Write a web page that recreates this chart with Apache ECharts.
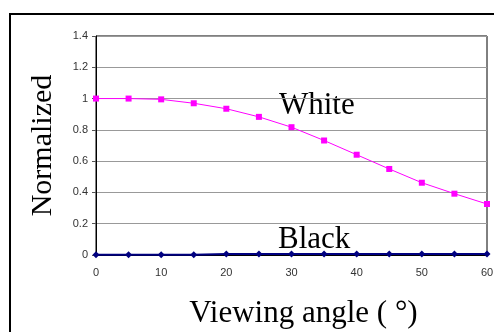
<!DOCTYPE html>
<html>
<head>
<meta charset="utf-8">
<script src="https://cdn.jsdelivr.net/npm/echarts@6/dist/echarts.min.js"></script>
<style>html,body{margin:0;padding:0;background:#fff}#c{width:494px;height:332px}</style>
</head>
<body>
<div id="c"></div>
<script>
const angles = [0, 5, 10, 15, 20, 25, 30, 35, 40, 45, 50, 55, 60];
const whiteVals = [1.0, 1.0, 0.995, 0.97, 0.935, 0.883, 0.817, 0.732, 0.641, 0.55, 0.462, 0.392, 0.326];
const blackVals = [0.002, 0.002, 0.002, 0.002, 0.006, 0.006, 0.006, 0.006, 0.006, 0.006, 0.006, 0.006, 0.006];
const yTicks = [0, 0.2, 0.4, 0.6, 0.8, 1, 1.2, 1.4];

const chart = echarts.init(document.getElementById('c'));
const serif = '"Liberation Serif", "DejaVu Serif", serif';
chart.setOption({
  animation: false,
  grid: { left: 96, top: 36, right: 7, bottom: 77, show: true, borderColor: '#000', borderWidth: 1,
    containLabel: false, outerBoundsMode: 'none' },
  xAxis: {
    type: 'value', min: 0, max: 60, interval: 10,
    name: 'Viewing angle ( °)', nameLocation: 'middle', nameGap: 43,
    nameTextStyle: { fontFamily: serif, fontSize: 31, color: '#000', padding: [0, 0, 0, 24] },
    axisLine: { lineStyle: { color: '#000', width: 1 } },
    axisTick: { show: false },
    axisLabel: { margin: 12, fontSize: 11, color: '#333', fontFamily: 'Liberation Sans, sans-serif' },
    splitLine: { show: false }
  },
  yAxis: {
    type: 'value', min: 0, max: 1.4, interval: 0.2,
    name: 'Normalized', nameLocation: 'middle', nameGap: 38, nameRotate: 90,
    nameTextStyle: { fontFamily: serif, fontSize: 30, color: '#000' },
    axisLine: { show: true, lineStyle: { color: '#000', width: 1 } },
    axisTick: { show: true, length: 4, inside: false, lineStyle: { color: '#555' } },
    axisLabel: { margin: 8, fontSize: 11, color: '#333', fontFamily: 'Liberation Sans, sans-serif',
      formatter: v => String(Math.round(v * 10) / 10) },
    splitLine: { show: true, lineStyle: { color: '#999', width: 1 } }
  },
  series: [
    {
      name: 'White', type: 'line',
      data: angles.map((a, i) => [a, whiteVals[i]]),
      symbol: 'rect', symbolSize: 6,
      lineStyle: { color: '#ff00ff', width: 1 },
      itemStyle: { color: '#ff00ff' }
    },
    {
      name: 'Black', type: 'line',
      data: angles.map((a, i) => [a, blackVals[i]]),
      symbol: 'diamond', symbolSize: 7,
      lineStyle: { color: '#000080', width: 2 },
      itemStyle: { color: '#000080' }
    }
  ],
  graphic: [
    { type: 'rect', shape: { x: 10, y: 14, width: 500, height: 340 }, style: { fill: 'none', stroke: '#000', lineWidth: 2 }, silent: true },
    { type: 'text', left: 279, top: 90, style: { text: 'White', font: '31px ' + serif, fill: '#000' } },
    { type: 'text', left: 278, top: 224, style: { text: 'Black', font: '31px ' + serif, fill: '#000' } }
  ]
});
</script>
</body>
</html>
